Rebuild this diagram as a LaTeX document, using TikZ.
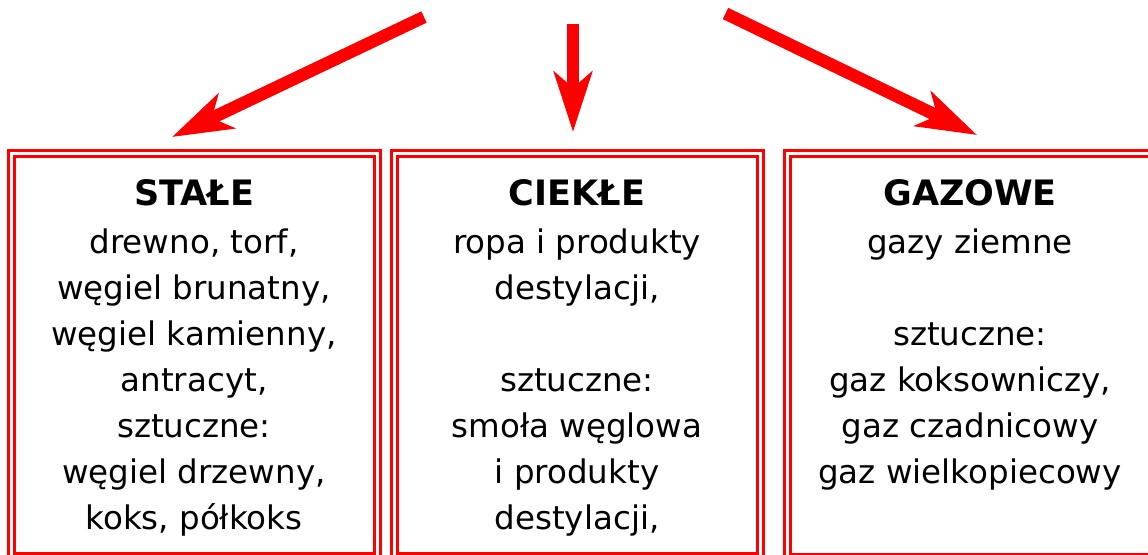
\documentclass[tikz,border=0pt]{standalone}
\usepackage{fontspec}
\setmainfont{DejaVu Sans}
\usetikzlibrary{arrows.meta}
\definecolor{pure}{RGB}{255,0,0}
\tikzset{
  bigarrow/.style={draw=pure, line width=12.5pt, line cap=butt,
    -{Stealth[length=60pt,width=38pt,inset=16pt]}},
  frame/.style={draw=pure, double=white, line width=3pt, double distance=3pt,
    rectangle, minimum width=366pt, minimum height=403.5pt, inner sep=0pt, anchor=north},
  body/.style={font=\fontsize{32.5}{46}\selectfont, anchor=base, inner sep=0pt},
  title/.style={font=\fontsize{35}{40}\selectfont\bfseries, anchor=base, inner sep=0pt}
}
\begin{document}
\begin{tikzpicture}[x=1pt,y=-1pt]
\useasboundingbox (0,0) rectangle (1148,554);
\begin{scope}
\clip (0,0) rectangle (1148,554);
\node[frame] (box1) at (194,151.5) {};
\node[frame] (box2) at (577,151.5) {};
\node[frame] (box3) at (970,152) {};
\end{scope}

% arrows
\coordinate (t1) at (424,17);
\coordinate (h1) at (172,137);
\coordinate (t2) at (573,24);
\coordinate (h2) at (573,132);
\coordinate (t3) at (725.5,13.5);
\coordinate (h3) at (977,135);
\draw[bigarrow] (t1) -- (h1);
\draw[bigarrow] (t2) -- (h2);
\draw[bigarrow] (t3) -- (h3);

% box 1
\node[title] (s1) at (194,205) {STAŁE};
\node[body] (a1) at (194,253) {drewno, torf,};
\node[body] (a2) at (194,299) {węgiel brunatny,};
\node[body] (a3) at (194,345) {węgiel kamienny,};
\node[body] (a4) at (194,391) {antracyt,};
\node[body] (a5) at (194,437) {sztuczne:};
\node[body] (a6) at (194,483) {węgiel drzewny,};
\node[body] (a7) at (194,529) {koks, półkoks};

% box 2
\node[title] (s2) at (577,205) {CIEKŁE};
\node[body] (b1) at (577,253) {ropa i produkty};
\node[body] (b2) at (577,299) {destylacji,};
\node[body] (b3) at (577,391) {sztuczne:};
\node[body] (b4) at (577,437) {smoła węglowa};
\node[body] (b5) at (577,483) {i produkty};
\node[body] (b6) at (577,529) {destylacji,};

% box 3
\node[title] (s3) at (970,205) {GAZOWE};
\node[body] (c1) at (970,253) {gazy ziemne};
\node[body] (c2) at (970,345) {sztuczne:};
\node[body] (c3) at (970,391) {gaz koksowniczy,};
\node[body] (c4) at (970,437) {gaz czadnicowy};
\node[body] (c5) at (970,483) {gaz wielkopiecowy};
\end{tikzpicture}
\end{document}
